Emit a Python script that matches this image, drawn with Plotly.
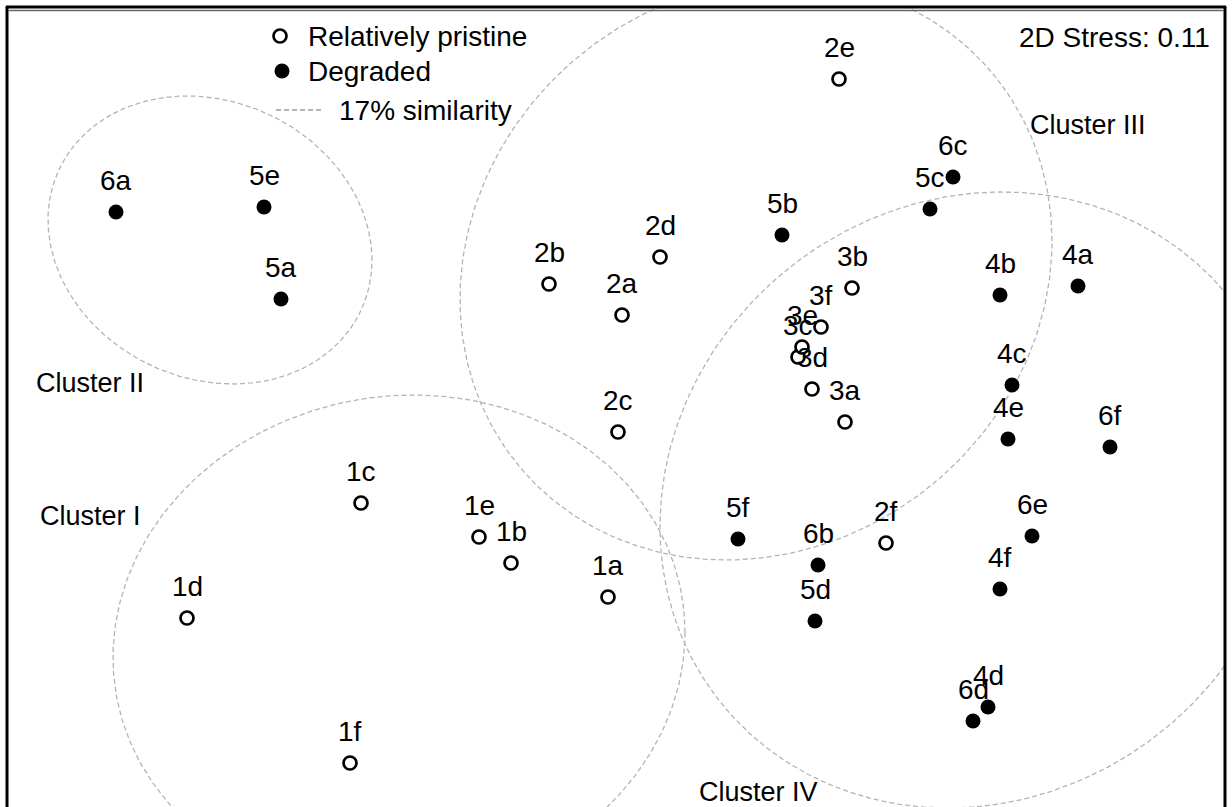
import numpy as np
import plotly.graph_objects as go

# ---- data (NMDS ordination coordinates) ----
pristine_labels = ["1a", "1b", "1c", "1d", "1e", "1f",
                   "2a", "2b", "2c", "2d", "2e", "2f",
                   "3a", "3b", "3c", "3d", "3e", "3f"]
pristine_x = [-0.08, -1.05, -2.55, -4.29, -1.37, -2.66,
              0.06, -0.67, 0.02, 0.44, 2.23, 2.70,
              2.29, 2.36, 1.82, 1.96, 1.86, 2.05]
pristine_y = [-1.90, -1.56, -0.96, -2.11, -1.30, -3.56,
              0.92, 1.23, -0.25, 1.50, 3.28, -1.36,
              -0.15, 1.19, 0.50, 0.18, 0.60, 0.80]

degraded_labels = ["4a", "4b", "4c", "4d", "4e", "4f",
                   "5a", "5b", "5c", "5d", "5e", "5f",
                   "6a", "6b", "6c", "6d", "6e", "6f"]
degraded_x = [4.62, 3.84, 3.96, 3.72, 3.92, 3.84,
              -3.35, 1.66, 3.14, 1.99, -3.52, 1.22,
              -5.00, 2.02, 3.37, 3.57, 4.16, 4.94]
degraded_y = [1.21, 1.12, 0.22, -3.00, -0.32, -1.82,
              1.08, 1.72, 1.98, -2.14, 2.00, -1.32,
              1.95, -1.58, 2.30, -3.14, -1.29, -0.40]

# 17% similarity contours: centre x, centre y, x radius, y radius, tilt (shear)
cluster_names = ["Cluster I", "Cluster II", "Cluster III", "Cluster IV"]
cluster_cx = [-2.17, -4.06, 1.40, 3.59]
cluster_cy = [-2.38, 1.67, 1.37, -0.93]
cluster_rx = [2.86, 1.62, 2.96, 3.15]
cluster_ry = [2.50, 1.44, 2.90, 3.08]
cluster_shear = [0.05, -0.14, 0.10, 0.086]
cluster_label_x = [-5.26, -5.26, 4.72, 1.42]
cluster_label_y = [-1.09, 0.24, 2.82, -3.85]

stress_text = "2D Stress: 0.11"
legend_labels = ["Relatively pristine", "Degraded", "17% similarity"]

FONT = "Liberation Sans, Arial, Helvetica, sans-serif"
FS = 28
GRAY = "#b4b4b4"

fig = go.Figure()

# ellipses
t = np.linspace(0, 2 * np.pi, 400)
for cx, cy, rx, ry, s in zip(cluster_cx, cluster_cy, cluster_rx, cluster_ry, cluster_shear):
    d = np.arccos(s)
    ex = cx + rx * np.cos(t)
    ey = cy + ry * np.cos(t - d)
    fig.add_trace(go.Scatter(x=ex, y=ey, mode="lines",
                             line=dict(color=GRAY, width=1.3, dash="5px,3px"),
                             hoverinfo="skip", showlegend=False))

# points
fig.add_trace(go.Scatter(x=pristine_x, y=pristine_y, mode="markers",
                         marker=dict(symbol="circle", size=13, color="white",
                                     line=dict(color="black", width=2.7)),
                         showlegend=False, cliponaxis=False))
fig.add_trace(go.Scatter(x=degraded_x, y=degraded_y, mode="markers",
                         marker=dict(symbol="circle", size=15, color="black",
                                     line=dict(width=0)),
                         showlegend=False, cliponaxis=False))

annotations = []
for lab, x, y in list(zip(pristine_labels, pristine_x, pristine_y)) + \
        list(zip(degraded_labels, degraded_x, degraded_y)):
    annotations.append(dict(x=x, y=y, text=lab, showarrow=False, yshift=32,
                            xanchor="center", yanchor="middle",
                            font=dict(family=FONT, size=FS, color="black")))

for name, x, y in zip(cluster_names, cluster_label_x, cluster_label_y):
    annotations.append(dict(x=x, y=y, text=name, showarrow=False,
                            xanchor="center", yanchor="middle",
                            font=dict(family=FONT, size=FS - 1, color="black")))

annotations.append(dict(x=5.96, y=3.70, text=stress_text, showarrow=False,
                        xanchor="right", yanchor="middle",
                        font=dict(family=FONT, size=FS, color="black")))

# custom legend (top left)
leg_x_sym = -3.36
leg_x_txt = -3.10
leg_y = [3.71, 3.36, 2.97]
fig.add_trace(go.Scatter(x=[leg_x_sym], y=[leg_y[0]], mode="markers",
                         marker=dict(symbol="circle", size=13, color="white",
                                     line=dict(color="black", width=2.7)),
                         showlegend=False, hoverinfo="skip"))
fig.add_trace(go.Scatter(x=[leg_x_sym + 0.02], y=[leg_y[1]], mode="markers",
                         marker=dict(symbol="circle", size=15, color="black"),
                         showlegend=False, hoverinfo="skip"))
fig.add_trace(go.Scatter(x=[-3.40, -2.94], y=[leg_y[2], leg_y[2]], mode="lines",
                         line=dict(color=GRAY, width=2, dash="5px,3px"),
                         showlegend=False, hoverinfo="skip"))
for i, lab in enumerate(legend_labels):
    annotations.append(dict(x=leg_x_txt if i < 2 else -2.79, y=leg_y[i], text=lab,
                            showarrow=False, xanchor="left", yanchor="middle",
                            font=dict(family=FONT, size=FS, color="black")))

shapes = [
    dict(type="line", xref="paper", yref="paper", x0=0, x1=0, y0=-0.01, y1=1,
         line=dict(color="black", width=3)),
    dict(type="line", xref="paper", yref="paper", x0=1, x1=1, y0=-0.01, y1=1,
         line=dict(color="black", width=3)),
    dict(type="line", xref="paper", yref="paper", x0=-0.001, x1=1.001, y0=1, y1=1,
         line=dict(color="black", width=3)),
    dict(type="line", xref="paper", yref="paper", x0=0.001, x1=0.999,
         y0=0.99563, y1=0.99563, line=dict(color="#666666", width=1.5)),
]

fig.update_layout(
    width=1232, height=807,
    margin=dict(l=7, r=7, t=7, b=0, pad=0),
    paper_bgcolor="white", plot_bgcolor="white",
    xaxis=dict(range=[-6.09, 6.09], visible=False, fixedrange=True),
    yaxis=dict(range=[-4.0, 4.0], visible=False, fixedrange=True),
    annotations=annotations, shapes=shapes,
    showlegend=False, hovermode=False,
)

fig.write_html("out.html", config={"displayModeBar": False, "staticPlot": True},
               post_script="document.body.style.margin='0px';document.body.style.overflow='hidden';")
